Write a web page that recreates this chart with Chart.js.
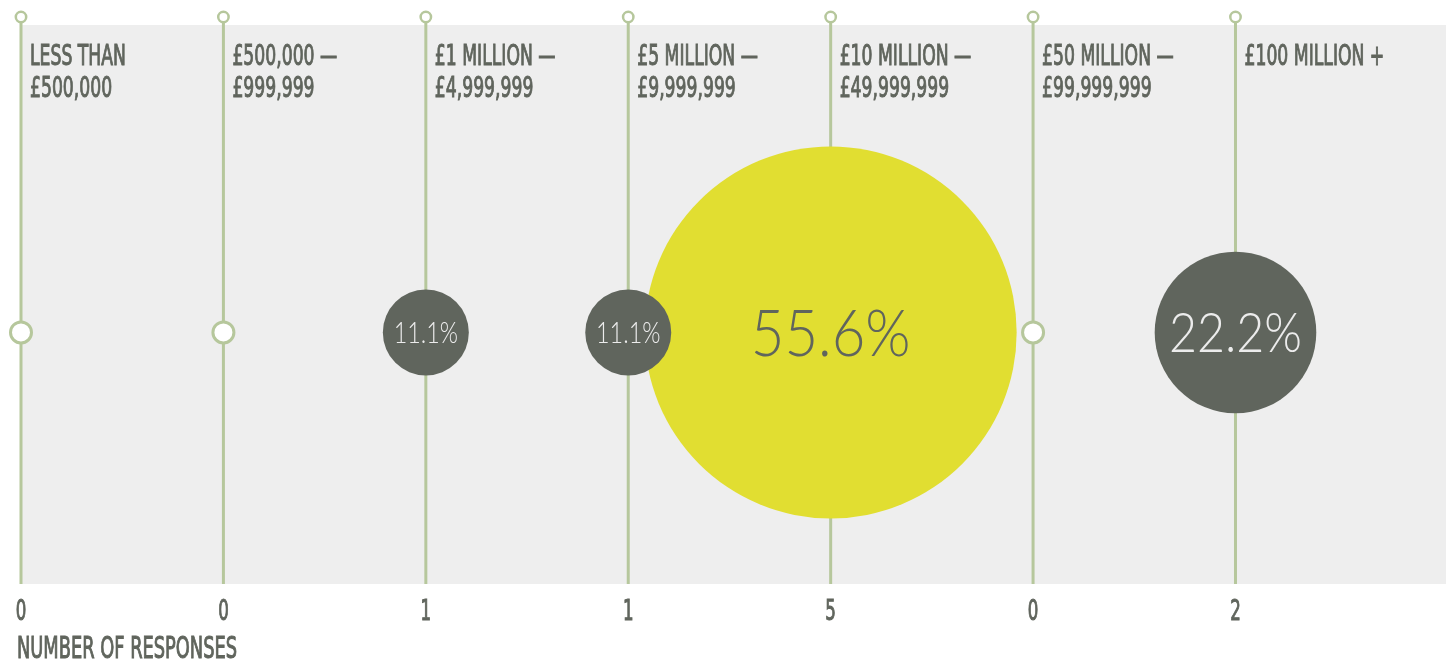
<!DOCTYPE html>
<html>
<head>
<meta charset="utf-8">
<script src="https://cdn.jsdelivr.net/npm/chart.js@4/dist/chart.umd.min.js"></script>
<style>
  html, body { margin: 0; padding: 0; background: #fff; }
  #wrap { width: 1453px; height: 664px; position: relative; }
</style>
</head>
<body>
<div id="wrap"><canvas id="graficoRespostas"></canvas></div>
<script>
// Faixas de valor (duas linhas cada) e numero de respostas
var faixas = [
  ["LESS THAN", "£500,000"],
  ["£500,000 —", "£999,999"],
  ["£1 MILLION —", "£4,999,999"],
  ["£5 MILLION —", "£9,999,999"],
  ["£10 MILLION —", "£49,999,999"],
  ["£50 MILLION —", "£99,999,999"],
  ["£100 MILLION +"]
];
var respostas = [0, 0, 1, 1, 5, 0, 2];
var tituloEixo = "NUMBER OF RESPONSES";

var corVerde = '#b6c79c';
var corEscura = '#60655d';
var corAmarela = '#e1de31';
var corFundo = '#eeeeee';
var fonteEstreita = '"Liberation Sans Narrow", "DejaVu Sans Condensed", sans-serif';
var fonteFina = 'Lato, "Open Sans", sans-serif';

var total = respostas.reduce(function (a, b) { return a + b; }, 0);
var maximo = Math.max.apply(null, respostas);

function percentual(n) {
  return (n / total * 100).toFixed(1) + '%';
}

// Raio da bolha a partir do numero de respostas
function raio(n) {
  return n === 0 ? 10.5 : 43 * Math.pow(n, 0.91);
}

function ponto(n, i) {
  return { x: i, y: 0.45, r: raio(n), n: n };
}

var pontosDestaque = [];
var pontosOutros = [];
respostas.forEach(function (n, i) {
  if (n === maximo) pontosDestaque.push(ponto(n, i));
  else pontosOutros.push(ponto(n, i));
});

// Texto comprimido na horizontal (fonte, escala x, alinhamento, contorno)
function textoComprimido(ctx, txt, x, y, fonte, sx, alinhar, cor, contorno) {
  ctx.save();
  ctx.font = fonte;
  ctx.fillStyle = cor || corEscura;
  ctx.textBaseline = 'alphabetic';
  var w = ctx.measureText(txt).width * sx;
  var x0 = alinhar === 'center' ? x - w / 2 : x;
  ctx.translate(x0, y);
  ctx.scale(sx, 1);
  ctx.textAlign = 'left';
  ctx.fillText(txt, 0, 0);
  if (contorno) {
    ctx.strokeStyle = cor || corEscura;
    ctx.lineWidth = contorno;
    ctx.strokeText(txt, 0, 0);
  }
  ctx.restore();
}

function textoEstreito(ctx, txt, x, y, tam, alinhar) {
  textoComprimido(ctx, txt, x, y, tam + 'px ' + fonteEstreita, 0.66, alinhar, corEscura, 1);
}

var pluginFundo = {
  id: 'fundo',
  beforeDatasetsDraw: function (chart) {
    var ctx = chart.ctx, a = chart.chartArea, sx = chart.scales.x;
    ctx.save();
    ctx.fillStyle = corFundo;
    ctx.fillRect(a.left, a.top, a.right - a.left, a.bottom - a.top);

    // hastes verticais com circulo no topo
    respostas.forEach(function (n, i) {
      var x = sx.getPixelForValue(i);
      var yTopo = a.top - 8;
      ctx.strokeStyle = corVerde;
      ctx.lineWidth = 3;
      ctx.beginPath();
      ctx.moveTo(x, yTopo + 5);
      ctx.lineTo(x, a.bottom);
      ctx.stroke();
      ctx.beginPath();
      ctx.arc(x, yTopo, 5.2, 0, Math.PI * 2);
      ctx.fillStyle = '#fff';
      ctx.fill();
      ctx.lineWidth = 2.5;
      ctx.stroke();
    });

    // rotulos das faixas
    faixas.forEach(function (linhas, i) {
      var x = sx.getPixelForValue(i) + 9;
      linhas.forEach(function (txt, j) {
        textoEstreito(ctx, txt, x, a.top + 40 + j * 32, 29, 'left');
      });
    });
    ctx.restore();
  },
  afterDatasetsDraw: function (chart) {
    var ctx = chart.ctx, a = chart.chartArea, sx = chart.scales.x;
    ctx.save();
    // percentuais dentro das bolhas
    chart.data.datasets.forEach(function (ds, di) {
      var meta = chart.getDatasetMeta(di);
      meta.data.forEach(function (el, k) {
        var p = ds.data[k];
        if (!p.n) return;
        var tam = Math.min(p.r * 0.68, 66);
        var cor = p.n === maximo ? corEscura : '#ececec';
        textoComprimido(ctx, percentual(p.n), el.x, el.y + tam * 0.36,
          '300 ' + tam + 'px ' + fonteFina, p.n === 1 ? 0.8 : 0.88, 'center', cor);
      });
    });

    // contagens embaixo de cada haste
    respostas.forEach(function (n, i) {
      textoEstreito(ctx, String(n), sx.getPixelForValue(i), a.bottom + 36, 28, 'center');
    });
    textoEstreito(ctx, tituloEixo, a.left - 4, a.bottom + 74, 30, 'left');
    ctx.restore();
  }
};

function corPonto(c) {
  var p = c.raw;
  if (!p) return corEscura;
  return p.n === 0 ? '#ffffff' : corEscura;
}

new Chart(document.getElementById('graficoRespostas').getContext('2d'), {
  type: 'bubble',
  data: {
    datasets: [
      {
        label: 'Outros',
        data: pontosOutros,
        order: 1,
        clip: false,
        backgroundColor: corPonto,
        hoverBackgroundColor: corPonto,
        borderColor: corVerde,
        hoverBorderColor: corVerde,
        borderWidth: function (c) { return c.raw && c.raw.n === 0 ? 3 : 0; },
        hoverBorderWidth: function (c) { return c.raw && c.raw.n === 0 ? 3 : 0; }
      },
      {
        label: 'Maior',
        data: pontosDestaque,
        order: 2,
        clip: false,
        backgroundColor: corAmarela,
        hoverBackgroundColor: corAmarela,
        borderWidth: 0
      }
    ]
  },
  options: {
    responsive: true,
    maintainAspectRatio: false,
    animation: false,
    events: [],
    layout: { autoPadding: false, padding: { left: 21, right: 7, top: 25, bottom: 80 } },
    plugins: {
      legend: { display: false },
      tooltip: { enabled: false }
    },
    scales: {
      x: { type: 'linear', min: 0, max: 7.04, display: false },
      y: { type: 'linear', min: 0, max: 1, display: false }
    }
  },
  plugins: [pluginFundo]
});
</script>
</body>
</html>
